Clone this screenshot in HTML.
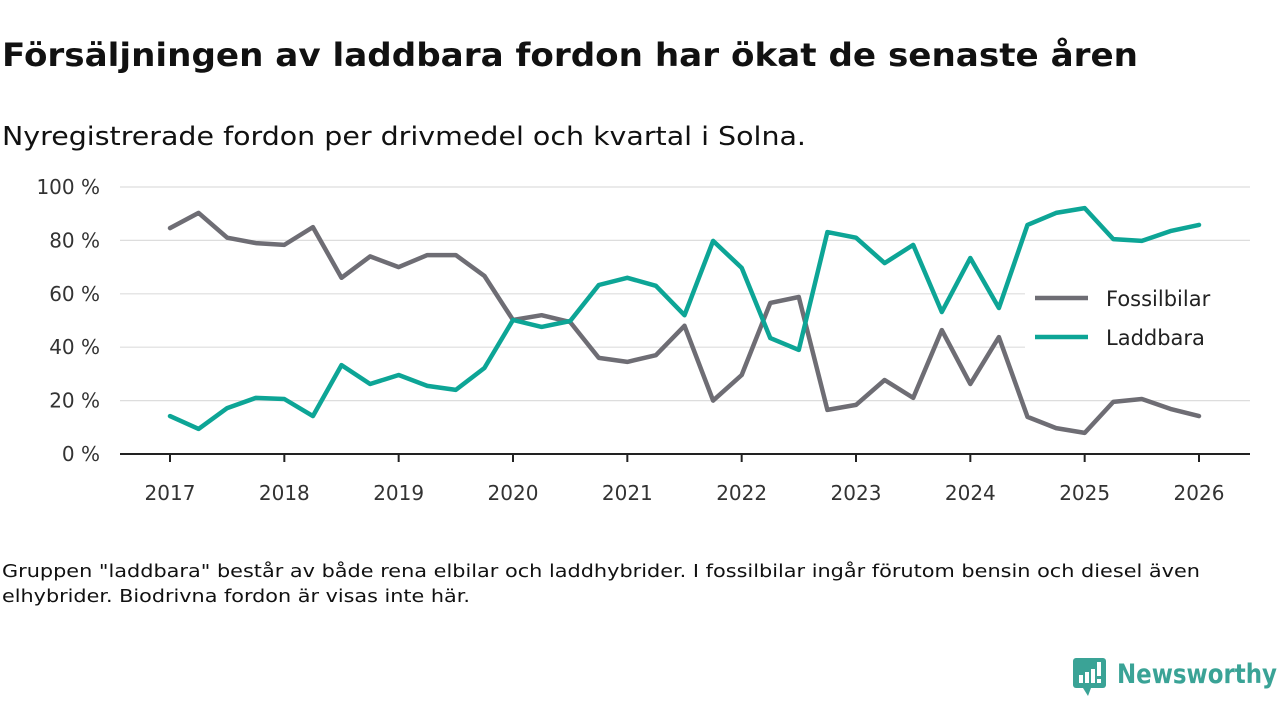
<!DOCTYPE html>
<html><head><meta charset="utf-8"><style>
body{margin:0;background:#fff;width:1280px;height:720px;overflow:hidden}
svg text{font-family:"DejaVu Sans","Liberation Sans",sans-serif}
</style></head><body>
<svg id="chart" width="1280" height="720">
<text x="2" y="66" font-size="32" font-weight="bold" fill="#111" textLength="1136" lengthAdjust="spacingAndGlyphs">Försäljningen av laddbara fordon har ökat de senaste åren</text>
<text x="2" y="145" font-size="26" fill="#111" textLength="804" lengthAdjust="spacingAndGlyphs">Nyregistrerade fordon per drivmedel och kvartal i Solna.</text>
<g id="grid"></g><g id="xaxis"></g><g id="lines"></g>
<g>
<rect x="1025" y="270" width="230" height="90" fill="#fff"/>
<line x1="1035" y1="298" x2="1088" y2="298" stroke="#6e6d74" stroke-width="4.5"/>
<text x="1106" y="306" font-size="21" fill="#222">Fossilbilar</text>
<line x1="1035" y1="337" x2="1088" y2="337" stroke="#0da596" stroke-width="4.5"/>
<text x="1106" y="345" font-size="21" fill="#222">Laddbara</text>
</g>
<text x="2" y="577" font-size="18" fill="#111" textLength="1198" lengthAdjust="spacingAndGlyphs">Gruppen "laddbara" består av både rena elbilar och laddhybrider. I fossilbilar ingår förutom bensin och diesel även</text>
<text x="2" y="602" font-size="18" fill="#111" textLength="468" lengthAdjust="spacingAndGlyphs">elhybrider. Biodrivna fordon är visas inte här.</text>
<g>
<rect x="1073" y="658" width="33" height="30" rx="3" fill="#3aa396"/>
<polygon points="1083,688 1091,688 1088,696" fill="#3aa396"/>
<rect x="1079" y="675" width="4" height="8" fill="#fff"/><rect x="1085" y="672" width="4" height="11" fill="#fff"/><rect x="1091" y="669" width="4" height="14" fill="#fff"/><rect x="1097" y="662" width="4" height="14" fill="#fff"/><rect x="1097" y="679" width="4" height="4" fill="#fff"/>
<text x="1117" y="683" font-size="27" font-weight="bold" fill="#3aa396" textLength="160" lengthAdjust="spacingAndGlyphs">Newsworthy</text>
</g>
</svg>
<script>
const years=[2017,2018,2019,2020,2021,2022,2023,2024,2025,2026];
const yTicks=[0,20,40,60,80,100];
const fossil=[84.6,90.3,81,79,78.3,85,66,74,70,74.5,74.5,66.7,50.2,52,49.4,36,34.5,37,48,20,29.6,56.6,58.8,16.5,18.4,27.7,21,46.4,26.2,43.8,13.9,9.7,7.9,19.5,20.6,16.9,14.2];
const laddbara=[14.2,9.4,17.2,21,20.6,14.2,33.3,26.2,29.6,25.5,24,32.2,50.2,47.6,49.8,63.3,66,63,52,79.8,69.7,43.4,39,83.1,81,71.5,78.3,53.2,73.4,54.7,85.8,90.3,92.1,80.5,79.8,83.5,85.8];
const NS="http://www.w3.org/2000/svg";
const x=t=>170+(t-2017)*(1199-170)/9;
const y=v=>454-v*(454-187)/100;
function mk(tag,attrs,parent,txt){const e=document.createElementNS(NS,tag);for(const k in attrs)e.setAttribute(k,attrs[k]);if(txt!==undefined)e.textContent=txt;parent.appendChild(e);return e;}
const grid=document.getElementById('grid'),xa=document.getElementById('xaxis'),ln=document.getElementById('lines');
yTicks.forEach(v=>{
 if(v>0){const g=mk('line',{x1:120,x2:1250,y1:y(v),y2:y(v),stroke:'#ddd','stroke-width':1.2},grid);
 
 }
 const t=mk('text',{x:100,y:y(v)+7,'font-size':20,fill:'#333','text-anchor':'end'},grid,v+' %');
 
 
});
const ax=mk('line',{x1:120,x2:1250,y1:454,y2:454,stroke:'#222','stroke-width':2},xa);


years.forEach(yr=>{
 const tk=mk('line',{x1:x(yr),x2:x(yr),y1:454,y2:462,stroke:'#222','stroke-width':2},xa);
 
 
 const t=mk('text',{x:x(yr),y:500,'font-size':20,fill:'#333','text-anchor':'middle'},xa,yr);
 
 
});
function series(vals,color,name){
 const d=vals.map((v,i)=>(i?'L':'M')+x(2017+i/4).toFixed(1)+','+y(v).toFixed(1)).join('');
 const p=mk('path',{d:d,fill:'none',stroke:color,'stroke-width':4.5,'stroke-linejoin':'round','stroke-linecap':'round'},ln);
 
 
}
series(fossil,'#6e6d74','fossil-line');
series(laddbara,'#0da596','laddbara-line');
</script>
</body></html>
